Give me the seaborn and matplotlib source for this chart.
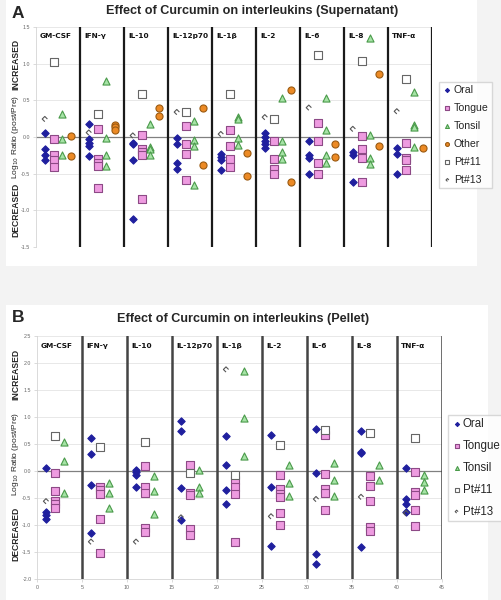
import numpy as np
import pandas as pd
import seaborn as sns
import matplotlib.pyplot as plt
from matplotlib.path import Path
from matplotlib.patches import Rectangle
from matplotlib.ticker import FormatStrFormatter

cytokines = ["GM-CSF", "IFN-γ", "IL-10", "IL-12p70", "IL-1β", "IL-2", "IL-6", "IL-8", "TNF-α"]

# Panel A - supernatant, log10 ratio (post/pre), one list per cytokine
sup_oral = [[0.05, -0.16, -0.24, -0.32], [0.18, -0.03, -0.08, -0.12, -0.26], [-0.08, -0.10, -0.32, -1.12],
            [-0.02, -0.09, -0.35, -0.43], [-0.23, -0.27, -0.32, -0.45], [0.05, 0.0, -0.05, -0.10, -0.15],
            [-0.05, -0.25, -0.29, -0.51], [-0.20, -0.24, -0.61], [-0.15, -0.23, -0.51]]
sup_tongue = [[-0.03, -0.24, -0.31, -0.41], [0.11, -0.30, -0.35, -0.40, -0.70], [0.03, -0.16, -0.20, -0.25, -0.84],
              [0.15, -0.09, -0.23, -0.59], [0.09, -0.12, -0.30, -0.41], [-0.05, -0.30, -0.44, -0.50],
              [0.19, -0.05, -0.35, -0.50], [0.01, -0.16, -0.28, -0.62], [-0.08, -0.28, -0.32, -0.45]]
sup_tonsil = [[0.31, -0.03, -0.24], [0.77, -0.02, -0.24, -0.39], [0.18, -0.13, -0.17, -0.25],
              [0.22, -0.04, -0.12, -0.66], [0.27, 0.24, -0.01, -0.11], [0.53, -0.06, -0.21, -0.30],
              [0.53, 0.10, -0.25, -0.35], [1.35, 0.03, -0.28, -0.37], [0.62, 0.17, 0.13, -0.14]]
sup_other = [[0.01, -0.26], [0.16, 0.13, 0.10], [0.40, 0.28], [0.39, -0.38], [-0.22, -0.53],
             [0.64, -0.62], [-0.09, -0.27], [0.86, -0.12], [-0.15]]
sup_pt11 = [[1.02], [0.32], [0.58], [0.34], [0.58], [0.25], [1.12], [1.03], [0.79]]
sup_pt13 = [[0.245], [0.06], [0.02], [0.34], [0.04], [0.27], [0.40], [0.11], [0.35]]

# Panel B - pellet
pel_oral = [[0.05, -0.76, -0.81, -0.88], [0.61, 0.31, -0.25, -1.15], [0.02, -0.02, -0.07, -0.29],
            [0.92, 0.75, -0.31, -0.90], [0.64, 0.11, -0.35, -0.62], [0.66, -0.30, -1.39],
            [0.77, -0.04, -1.53, -1.73], [0.75, 0.36, 0.33, -1.41], [0.06, -0.51, -0.61, -0.76]]
pel_tongue = [[-0.03, -0.37, -0.55, -0.62, -0.68], [-0.29, -0.35, -0.42, -0.88, -1.51],
              [0.10, -0.29, -0.40, -1.05, -1.13], [0.11, -0.41, -0.44, -1.08, -1.18],
              [-0.17, -0.30, -0.43, -1.31], [-0.07, -0.33, -0.42, -0.48, -0.78, -1.00],
              [0.66, -0.05, -0.33, -0.40, -0.73], [-0.09, -0.27, -0.56, -1.04, -1.11],
              [-0.01, -0.38, -0.45, -0.72, -1.02]]
pel_tonsil = [[0.54, 0.18, -0.40], [-0.22, -0.40, -0.69], [-0.09, -0.37, -0.80], [0.02, -0.30, -0.40],
              [1.85, 0.98, 0.27], [0.12, -0.23, -0.47], [0.15, -0.17, -0.47], [0.12, -0.17],
              [-0.07, -0.20, -0.36]]
pel_pt11 = [[0.64], [0.44], [0.53], [-0.04], [-0.07], [0.48], [0.76], [0.71], [0.61]]
pel_pt13 = [[-0.56], [-1.31], [-1.31], [-0.86], [1.88], [-0.84], [-0.52], [-0.48], [-0.78]]

# open "diamond" for Pt#13 (one side missing)
pt13_marker = Path([(0, -1), (-1, 0), (0, 1), (1, 0)],
                   [Path.MOVETO, Path.LINETO, Path.LINETO, Path.LINETO])

# group: (offset inside column, marker, face, edge, size)
styles = {
    "Oral":   (1, "D", "#1f1f9e", "#1f1f9e", 14),
    "Tongue": (2, "s", "#ee9be0", "#8d4a86", 28),
    "Tonsil": (3, "^", "#a6e3a6", "#4a9a4a", 26),
    "Other":  (4, "o", "#ec8a25", "#9a5a12", 26),
    "Pt#11":  (2, "s", "white", "#666666", 32),
    "Pt#13":  (1, pt13_marker, "none", "#555555", 14),
}


def to_frame(groups):
    rows = []
    for name, lists in groups.items():
        for i, vals in enumerate(lists):
            for v in vals:
                rows.append({"group": name, "cytokine": cytokines[i],
                             "x": i * 5 + styles[name][0], "value": v})
    return pd.DataFrame(rows)


df_a = to_frame({"Oral": sup_oral, "Tongue": sup_tongue, "Tonsil": sup_tonsil,
                 "Other": sup_other, "Pt#11": sup_pt11, "Pt#13": sup_pt13})
df_b = to_frame({"Oral": pel_oral, "Tongue": pel_tongue, "Tonsil": pel_tonsil,
                 "Pt#11": pel_pt11, "Pt#13": pel_pt13})

sns.set_style("white")
plt.rcParams["font.family"] = ["Liberation Sans", "DejaVu Sans"]

fig = plt.figure(figsize=(5.01, 6.0), dpi=100)
fig.patch.set_facecolor("#f3f3f3")
# white panel backgrounds (behind the axes)
fig.patches.append(Rectangle((0.012, 1 - 266 / 600), 0.94, 266 / 600, transform=fig.transFigure,
                             facecolor="white", edgecolor="none", zorder=-5))
fig.patches.append(Rectangle((0.012, 0), 0.962, 1 - 305 / 600, transform=fig.transFigure,
                             facecolor="white", edgecolor="none", zorder=-5))

ax_a = fig.add_axes([36 / 501, 1 - 247 / 600, 396 / 501, 220 / 600])
ax_b = fig.add_axes([37 / 501, 1 - 579 / 600, 405 / 501, 243 / 600])


def draw_panel(ax, df, ylim, label_y, sep_color, sep_lw):
    ax.set_facecolor("white")
    for g in df["group"].unique():
        off, mk, fc, ec, s = styles[g]
        sub = df[df["group"] == g]
        sns.scatterplot(data=sub, x="x", y="value", ax=ax, marker=mk, s=s,
                        color=ec, facecolor=fc, edgecolor=ec, linewidth=0.8,
                        label=g, zorder=3)
    ax.set_xlim(0, 45)
    ax.set_ylim(*ylim)
    ax.set_yticks(np.arange(ylim[0], ylim[1] + 0.01, 0.5))
    ax.yaxis.set_major_formatter(FormatStrFormatter("%.1f"))
    ax.yaxis.grid(True, color="#e4e4e4", lw=0.6, zorder=0)
    ax.set_axisbelow(True)
    ax.axhline(0, color="#808080", lw=0.9, zorder=1)
    for k in range(1, 10):
        ax.axvline(5 * k, color=sep_color, lw=sep_lw, zorder=2)
    for i, name in enumerate(cytokines):
        ax.text(i * 5 + 0.45, label_y, name, fontsize=5.3, fontweight="bold",
                family="DejaVu Sans", va="center", ha="left", color="#111111")
    for side in ["top", "right"]:
        ax.spines[side].set_visible(False)
    ax.spines["left"].set_color("#d4d4d4")
    ax.spines["left"].set_linewidth(0.6)
    ax.spines["bottom"].set_color("#d4d4d4")
    ax.spines["bottom"].set_linewidth(0.6)
    ax.tick_params(axis="both", labelsize=3.8, labelcolor="#666666", color="#cccccc",
                   length=2, width=0.5, pad=2, left=True, bottom=True)
    ax.set_xlabel("")
    ax.set_ylabel("")


draw_panel(ax_a, df_a, (-1.5, 1.5), 1.38, "#1a1a1a", 1.6)
ax_a.set_xticks([])
ax_a.spines["bottom"].set_visible(False)
draw_panel(ax_b, df_b, (-2.0, 2.5), 2.31, "#444444", 1.8)
ax_b.set_xticks(np.arange(0, 46, 5))

ax_a.legend(loc="upper left", bbox_to_anchor=(439 / 501, 1 - 82 / 600), bbox_transform=fig.transFigure,
            fontsize=7.6, markerscale=0.55, handletextpad=0.1, handlelength=1.0, labelspacing=0.75,
            borderpad=0.3, frameon=True, facecolor="white", edgecolor="#d0d0d0", fancybox=False,
            borderaxespad=0)
ax_b.legend(loc="upper left", bbox_to_anchor=(448 / 501, 1 - 415 / 600), bbox_transform=fig.transFigure,
            fontsize=8.3, markerscale=0.55, handletextpad=0.1, handlelength=0.9, labelspacing=0.85,
            borderpad=0.3, frameon=True, facecolor="white", edgecolor="#d0d0d0", fancybox=False,
            borderaxespad=0)

# panel letters and titles
fig.text(12 / 501, 1 - 14 / 600, "A", fontsize=12.5, fontweight="bold", va="center", ha="left")
fig.text(252 / 501, 1 - 11 / 600, "Effect of Curcumin on interleukins (Supernatant)",
         fontsize=9.1, fontweight="bold", va="center", ha="center")
fig.text(12 / 501, 1 - 318 / 600, "B", fontsize=12.5, fontweight="bold", va="center", ha="left")
fig.text(243 / 501, 1 - 319 / 600, "Effect of Curcumin on interleukins (Pellet)",
         fontsize=9.1, fontweight="bold", va="center", ha="center")

# y axis labels
for inc_y, mid_y, dec_y in [(64, 137, 210), (374, 454, 534)]:
    fig.text(16 / 501, 1 - inc_y / 600, "INCREASED", rotation=90, fontsize=6.2,
             fontweight="bold", va="center", ha="center")
    fig.text(16 / 501, 1 - mid_y / 600, "Log$_{10}$ Ratio (post/Pre)", rotation=90, fontsize=6.0,
             va="center", ha="center")
    fig.text(16 / 501, 1 - dec_y / 600, "DECREASED", rotation=90, fontsize=6.2,
             fontweight="bold", va="center", ha="center")

plt.savefig("out.png", dpi=100, facecolor=fig.get_facecolor())
